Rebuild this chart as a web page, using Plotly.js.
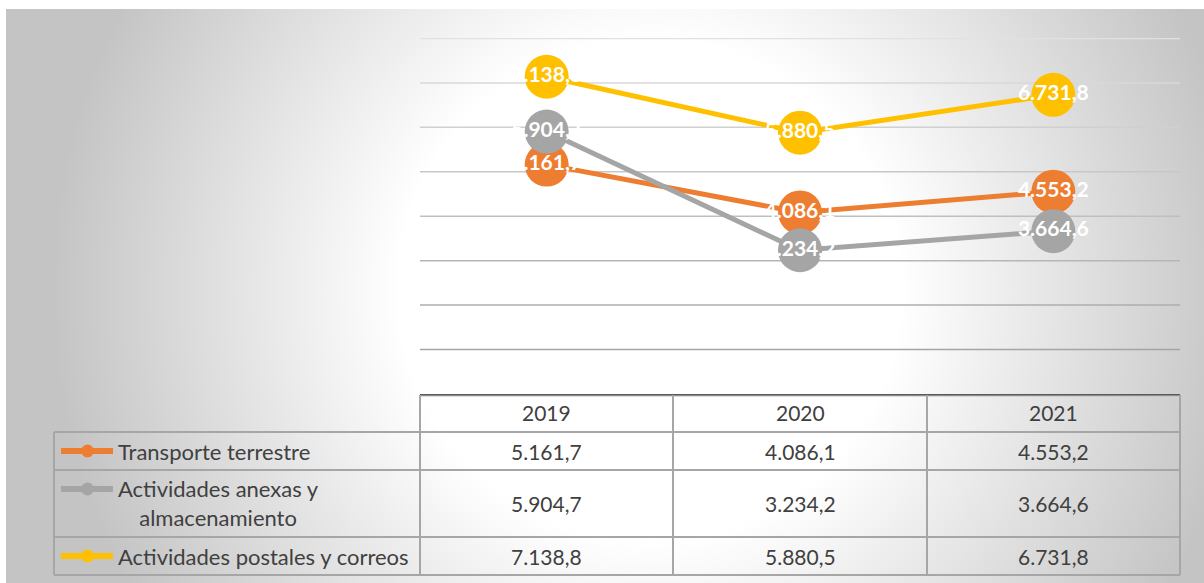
<!DOCTYPE html>
<html>
<head>
<meta charset="utf-8">
<script src="https://cdn.plot.ly/plotly-3.0.1.min.js"></script>
<style>
  html, body { margin:0; padding:0; background:#ffffff; }
  #bg { position:absolute; left:6px; top:9px; width:1198px; height:574px;
        background: radial-gradient(circle 600px at 644px 281px, #ffffff 250px, #c4c4c4 600px); }
  #chart { position:absolute; left:0; top:0; width:1204px; height:583px; }
</style>
</head>
<body>
<div id="bg"></div>
<div id="chart"></div>
<script>
// ---- data ----
const years = ['2019', '2020', '2021'];
const seriesNames = ['Transporte terrestre', 'Actividades anexas y<br>almacenamiento', 'Actividades postales y correos'];
const transporte = [5161.7, 4086.1, 4553.2];
const anexas = [5904.7, 3234.2, 3664.6];
const postales = [7138.8, 5880.5, 6731.8];
const colors = ['#ED7D31', '#A5A5A5', '#FFC000'];
const gridValues = [1000, 2000, 3000, 4000, 5000, 6000, 7000, 8000];
const yMax = 8000;

const allSeries = [transporte, anexas, postales];

function fmt(v) {
  const s = v.toFixed(1);
  let [ip, dp] = s.split('.');
  ip = ip.replace(/\B(?=(\d{3})+(?!\d))/g, '.');
  return ip + ',' + dp;
}

// ---- geometry helpers (pixel -> paper) ----
const W = 1204, H = 583;
const L = 420, R = 1180, T = 38, B = 394;
const px = x => (x - L) / (R - L);
const py = y => (B - y) / (B - T);

const FONT = 'Lato, "Liberation Sans", sans-serif';
const TXT = '#404040';
const BORDER = '#a6a6a6';

const traces = [];
allSeries.forEach((vals, i) => {
  traces.push({
    type: 'scatter', mode: 'lines+markers', x: years, y: vals,
    line: { color: colors[i], width: 5 },
    marker: { color: colors[i], size: 44 },
    hoverinfo: 'skip', showlegend: false, cliponaxis: false
  });
});
allSeries.forEach((vals, i) => {
  traces.push({
    type: 'scatter', mode: 'text', x: years, y: vals,
    text: vals.map(fmt), textposition: 'middle center',
    textfont: { family: FONT, size: 21, color: '#ffffff', weight: 'bold' },
    hoverinfo: 'skip', showlegend: false, cliponaxis: false
  });
});

const shapes = [];
const annotations = [];

// gridlines (on the y scale), fading lighter toward the top as in the original
gridValues.forEach((g, k) => {
  const lvl = Math.round(165 + k * 8.5);
  shapes.push({ type: 'line', xref: 'paper', yref: 'y', x0: 0, x1: 1, y0: g, y1: g, layer: 'below',
    line: { color: `rgb(${lvl},${lvl},${lvl})`, width: 1.5 } });
});

// ---- table ----
const rowLines = [432, 470, 537, 575];
const rowCenters = [451, 503.5, 556];
const colLines = [420, 673, 927, 1180];

rowLines.forEach(y => {
  shapes.push({ type: 'line', xref: 'paper', yref: 'paper', x0: px(54), x1: px(1180), y0: py(y), y1: py(y),
    line: { color: BORDER, width: 2 } });
});
shapes.push({ type: 'line', xref: 'paper', yref: 'paper', x0: px(420), x1: px(1180), y0: py(396), y1: py(396),
  line: { color: '#bdbdbd', width: 1 } });
colLines.forEach(x => {
  shapes.push({ type: 'line', xref: 'paper', yref: 'paper', x0: px(x), x1: px(x), y0: py(395), y1: py(575),
    line: { color: BORDER, width: 2 } });
});
shapes.push({ type: 'line', xref: 'paper', yref: 'paper', x0: px(54), x1: px(54), y0: py(432), y1: py(575),
  line: { color: BORDER, width: 2 } });

years.forEach((yr, j) => {
  annotations.push({ xref: 'x', yref: 'paper', x: j, y: py(412.5), text: yr, showarrow: false,
    xanchor: 'center', yanchor: 'middle', font: { family: FONT, size: 21, color: TXT } });
});
allSeries.forEach((vals, i) => {
  vals.forEach((v, j) => {
    annotations.push({ xref: 'x', yref: 'paper', x: j, y: py(rowCenters[i]), text: fmt(v), showarrow: false,
      xanchor: 'center', yanchor: 'middle', font: { family: FONT, size: 21, color: TXT } });
  });
  const cy = i === 1 ? 489 : rowCenters[i];
  shapes.push({ type: 'line', xref: 'paper', yref: 'paper', x0: px(61), x1: px(113), y0: py(cy), y1: py(cy),
    line: { color: colors[i], width: 6 } });
  shapes.push({ type: 'circle', xref: 'paper', yref: 'paper', x0: px(81), x1: px(94), y0: py(cy + 6.5), y1: py(cy - 6.5),
    fillcolor: colors[i], line: { width: 0 } });
  annotations.push({ xref: 'paper', yref: 'paper', x: px(116), y: py(i === 1 ? 503 : rowCenters[i]), text: seriesNames[i], showarrow: false,
    xanchor: 'left', yanchor: 'middle', align: 'center',
    font: { family: FONT, size: 22, color: TXT } });
});

const layout = {
  width: W, height: H,
  margin: { l: L, r: W - R, t: T, b: H - B, pad: 0 },
  paper_bgcolor: 'rgba(0,0,0,0)', plot_bgcolor: 'rgba(0,0,0,0)',
  showlegend: false,
  xaxis: { type: 'category', range: [-0.5, 2.5], showticklabels: false, showgrid: false, zeroline: false,
    showline: true, linecolor: '#5a5a5a', linewidth: 2, ticks: '', fixedrange: true },
  yaxis: { range: [0, yMax + 10], tick0: 0, dtick: 1000, showticklabels: false, showgrid: false,
    zeroline: false, showline: false, ticks: '', fixedrange: true },
  shapes: shapes,
  annotations: annotations,
  font: { family: FONT }
};

Plotly.newPlot('chart', traces, layout, { displayModeBar: false, staticPlot: true });
</script>
</body>
</html>
